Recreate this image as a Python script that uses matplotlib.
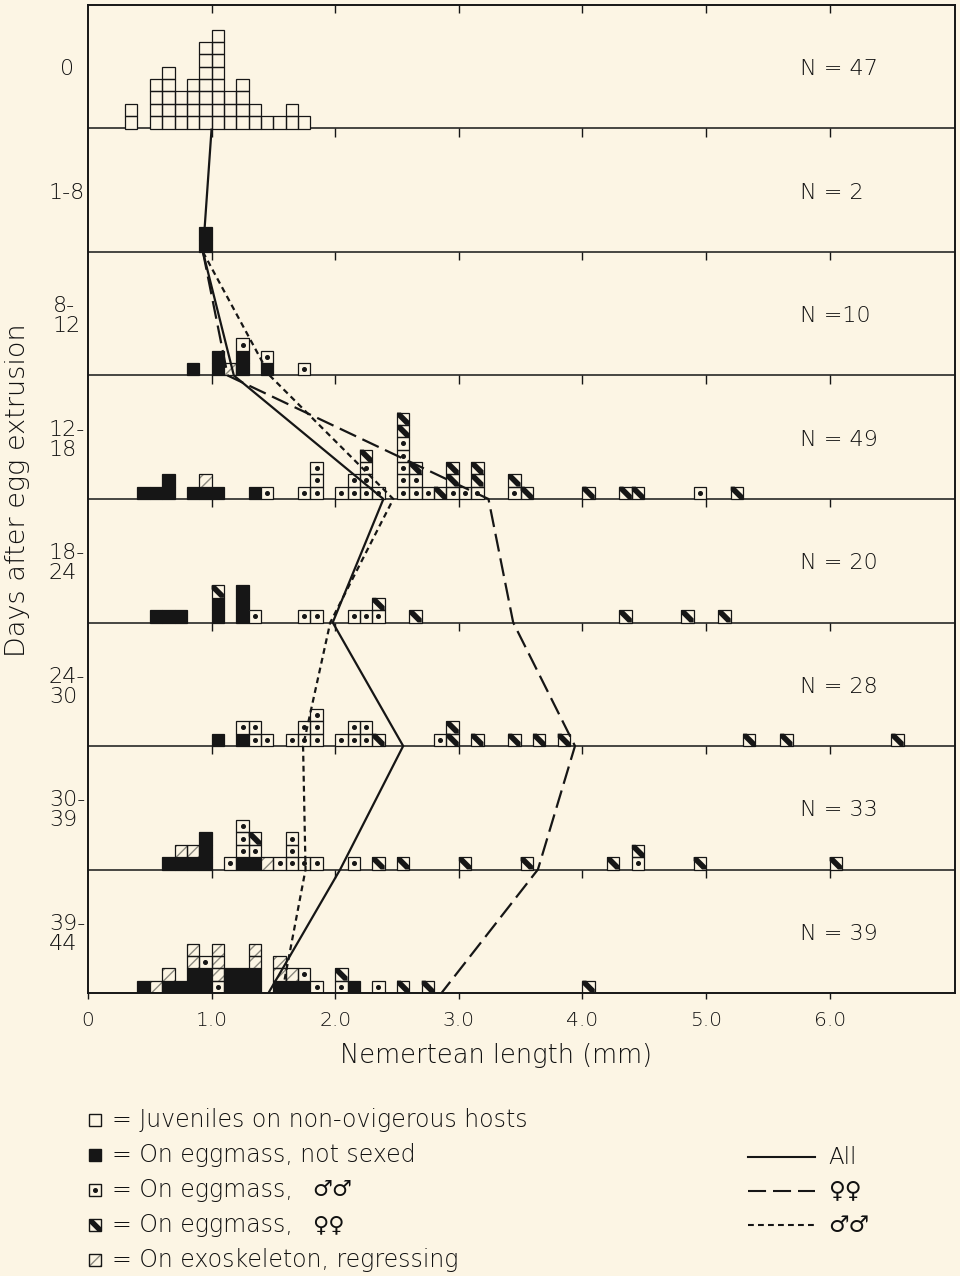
import matplotlib

matplotlib.use("Agg")
import matplotlib.pyplot as plt
from matplotlib.patches import Polygon, Rectangle

plt.rcParams["font.family"] = ["DejaVu Sans"]
plt.rcParams["font.weight"] = "light"
plt.rcParams["lines.scale_dashes"] = False

BG = "#fcf5e4"
INK = "#161616"
TXT = "#111111"
HATCH = "#8c8a80"

# each column: (bin start in mm, stack from bottom up)
# J juvenile, B on eggmass not sexed, M males, F females, R regressing
day_0 = [(0.3, "JJ"), (0.5, "JJJJ"), (0.6, "JJJJJ"), (0.7, "JJJ"), (0.8, "JJJJ"),
         (0.9, "JJJJJJJ"), (1.0, "JJJJJJJJ"), (1.1, "JJJ"), (1.2, "JJJJ"),
         (1.3, "JJ"), (1.4, "J"), (1.5, "J"), (1.6, "JJ"), (1.7, "J")]
day_1_8 = [(0.9, "BB")]
day_8_12 = [(0.8, "B"), (1.0, "BB"), (1.1, "R"), (1.2, "BBM"), (1.4, "BM"), (1.7, "M")]
day_12_18 = [(0.4, "B"), (0.5, "B"), (0.6, "BB"), (0.8, "B"), (0.9, "BR"), (1.0, "B"),
             (1.3, "B"), (1.4, "M"), (1.7, "M"), (1.8, "MMM"), (2.0, "M"), (2.1, "MM"),
             (2.2, "MMMF"), (2.3, "M"), (2.5, "MMMMMFF"), (2.6, "MMF"), (2.7, "M"),
             (2.8, "F"), (2.9, "MFF"), (3.0, "M"), (3.1, "MFF"), (3.4, "MF"), (3.5, "F"),
             (4.0, "F"), (4.3, "F"), (4.4, "F"), (4.9, "M"), (5.2, "F")]
day_18_24 = [(0.5, "B"), (0.6, "B"), (0.7, "B"), (1.0, "BBF"), (1.2, "BBB"), (1.3, "M"),
             (1.7, "M"), (1.8, "M"), (2.1, "M"), (2.2, "M"), (2.3, "MF"), (2.6, "F"),
             (4.3, "F"), (4.8, "F"), (5.1, "F")]
day_24_30 = [(1.0, "B"), (1.2, "BM"), (1.3, "MM"), (1.4, "M"), (1.6, "M"), (1.7, "MM"),
             (1.8, "MMM"), (2.0, "M"), (2.1, "MM"), (2.2, "MM"), (2.3, "F"), (2.8, "M"),
             (2.9, "FF"), (3.1, "F"), (3.4, "F"), (3.6, "F"), (3.8, "F"), (5.3, "F"),
             (5.6, "F"), (6.5, "F")]
day_30_39 = [(0.6, "B"), (0.7, "BR"), (0.8, "BR"), (0.9, "BBB"), (1.1, "M"), (1.2, "BMMM"),
             (1.3, "BMF"), (1.4, "R"), (1.5, "M"), (1.6, "MMM"), (1.7, "M"), (1.8, "M"),
             (2.1, "M"), (2.3, "F"), (2.5, "F"), (3.0, "F"), (3.5, "F"), (4.2, "F"),
             (4.4, "MF"), (4.9, "F"), (6.0, "F")]
day_39_44 = [(0.4, "B"), (0.5, "R"), (0.6, "BR"), (0.7, "B"), (0.8, "BBRR"), (0.9, "BBM"),
             (1.0, "MRRR"), (1.1, "BB"), (1.2, "BB"), (1.3, "BBRR"), (1.5, "BRR"),
             (1.6, "BR"), (1.7, "BM"), (1.8, "M"), (2.0, "MF"), (2.1, "B"), (2.3, "M"),
             (2.5, "F"), (2.7, "F"), (4.0, "F")]

panel_labels = ["0", "1-8", "8-\n12", "12-\n18", "18-\n24", "24-\n30", "30-\n39", "39-\n44"]
n_labels = ["N = 47", "N = 2", "N =10", "N = 49", "N = 20", "N = 28", "N = 33", "N = 39"]

# mean length (mm) at each panel baseline, top panel first
mean_all = [1.00, 0.93, 1.18, 2.39, 1.98, 2.55, 2.04, 1.46]
mean_females = [None, 0.93, 1.13, 3.24, 3.44, 3.94, 3.64, 2.86]
mean_males = [None, 0.93, 1.47, 2.47, 1.96, 1.74, 1.76, 1.57]

x_ticks = [0, 1, 2, 3, 4, 5, 6]
x_ticklabels = ["0", "1.0", "2.0", "3.0", "4.0", "5.0", "6.0"]

# (icon, text, sex symbols drawn after the text)
legend_items = [("J", "= Juveniles on non-ovigerous hosts", ""),
                ("B", "= On eggmass, not sexed", ""),
                ("M", "= On eggmass,", "\u2642\u2642"),
                ("F", "= On eggmass,", "\u2640\u2640"),
                ("R", "= On exoskeleton, regressing", "")]
line_items = [("-", "All"), ("long", "\u2640\u2640"), ("short", "\u2642\u2642")]

W = 960
H = 1276
PANEL = 10  # square units per panel
BIN = 0.1

STYLES = {"-": "-", "long": (0, (13, 5)), "short": (0, (4.2, 3))}
SYMBOL_FONT = dict(family=["DejaVu Sans"], weight="normal")


def cell(ax, x, y, kind, w, h, lw=0.9, z=2):
    if kind == "B":
        ax.add_patch(Rectangle((x, y), w, h, facecolor=INK, edgecolor=INK, lw=lw, zorder=z))
        return
    if kind == "R":
        ax.add_patch(Rectangle((x, y), w, h, facecolor=BG, edgecolor=HATCH, hatch="///",
                               lw=0, zorder=z))
    else:
        ax.add_patch(Rectangle((x, y), w, h, facecolor=BG, edgecolor="none", zorder=z))
    ax.add_patch(Rectangle((x, y), w, h, fill=False, edgecolor=INK, lw=lw, zorder=z + 0.1))
    if kind == "M":
        ax.plot(x + w / 2, y + h / 2, "o", ms=2.6, color=INK, zorder=z + 0.2)
    elif kind == "F":
        k = 0.32
        pts = [(x, y + h), (x + k * w, y + h), (x + w, y + k * h), (x + w, y),
               (x + w - k * w, y), (x, y + h - k * h)]
        ax.add_patch(Polygon(pts, closed=True, facecolor=INK, edgecolor="none",
                             zorder=z + 0.2))


fig = plt.figure(figsize=(W / 100, H / 100), dpi=100, facecolor=BG)
ax = fig.add_axes([88 / W, (H - 993) / H, (955 - 88) / W, (993 - 5) / H])
ax.set_facecolor(BG)
ax.set_xlim(0, (955 - 88) / 123.6)
ax.set_ylim(0, 8 * PANEL)

panels = [day_0, day_1_8, day_8_12, day_12_18, day_18_24, day_24_30, day_30_39, day_39_44]
n_panels = len(panels)
baselines = [(n_panels - 1 - i) * PANEL for i in range(n_panels)]

for base, cols in zip(baselines, panels):
    for x, stack in cols:
        for j, kind in enumerate(stack):
            cell(ax, x, base + j, kind, BIN, 1)

for base, lab, nl in zip(baselines, panel_labels, n_labels):
    ax.text(5.76, base + 4.8, nl, ha="left", va="center", fontsize=16, color=TXT)
    ax.text(-0.17, base + 4.8, lab, ha="center", va="center", fontsize=16, color=TXT,
            linespacing=1.0, multialignment="left", clip_on=False)

# panel boundaries with small ticks hanging below each
for k in range(1, n_panels + 1):
    y = k * PANEL
    if k < n_panels:
        ax.axhline(y, color=INK, lw=1.1, zorder=1.5)
    ax.vlines(x_ticks[1:], y - 0.65, y, color=INK, lw=1.0, zorder=1.5)


def mean_line(vals, style):
    pts = [(v, b) for v, b in zip(vals, baselines) if v is not None]
    ax.plot([p[0] for p in pts], [p[1] for p in pts], color=INK, lw=1.6,
            linestyle=STYLES[style], zorder=5, solid_capstyle="butt",
            dash_capstyle="butt")


mean_line(mean_all, "-")
mean_line(mean_females, "long")
mean_line(mean_males, "short")

for s in ax.spines.values():
    s.set_linewidth(1.4)
    s.set_color(INK)
ax.set_yticks([])
ax.set_xticks(x_ticks)
ax.set_xticklabels(x_ticklabels)
ax.tick_params(axis="x", direction="out", length=4, width=1.0, pad=9, labelsize=14.5,
               colors=INK, labelcolor=TXT)

fig.text(18 / W, 1 - 490 / H, "Days after egg extrusion", rotation=90, ha="center",
         va="center", fontsize=19.5, color=TXT)
fig.text(496 / W, 1 - 1056 / H, "Nemertean length (mm)", ha="center", va="center",
         fontsize=18.5, color=TXT)

# legend, drawn in pixel units
lg = fig.add_axes([0, 0, 1, 1], facecolor="none")
lg.set_xlim(0, W)
lg.set_ylim(0, H)
lg.axis("off")

for row, (kind, text, sym) in enumerate(legend_items):
    yc = 1120 + 35 * row
    cell(lg, 89, H - yc - 6, kind, 12, 12, lw=1.0)
    lg.text(112, H - yc, text, ha="left", va="center", fontsize=17, color=TXT)
    if sym:
        lg.text(312, H - yc, sym, ha="left", va="center", fontsize=16, color=TXT,
                **SYMBOL_FONT)

for row, (style, text) in enumerate(line_items):
    yc = 1157 + 34 * row
    lg.plot([748, 815], [H - yc, H - yc], color=INK, lw=1.5, linestyle=STYLES[style])
    font = {} if text == "All" else SYMBOL_FONT
    lg.text(828, H - yc, text, ha="left", va="center", fontsize=16.5, color=TXT, **font)

fig.savefig("out.png", dpi=100, facecolor=BG)
